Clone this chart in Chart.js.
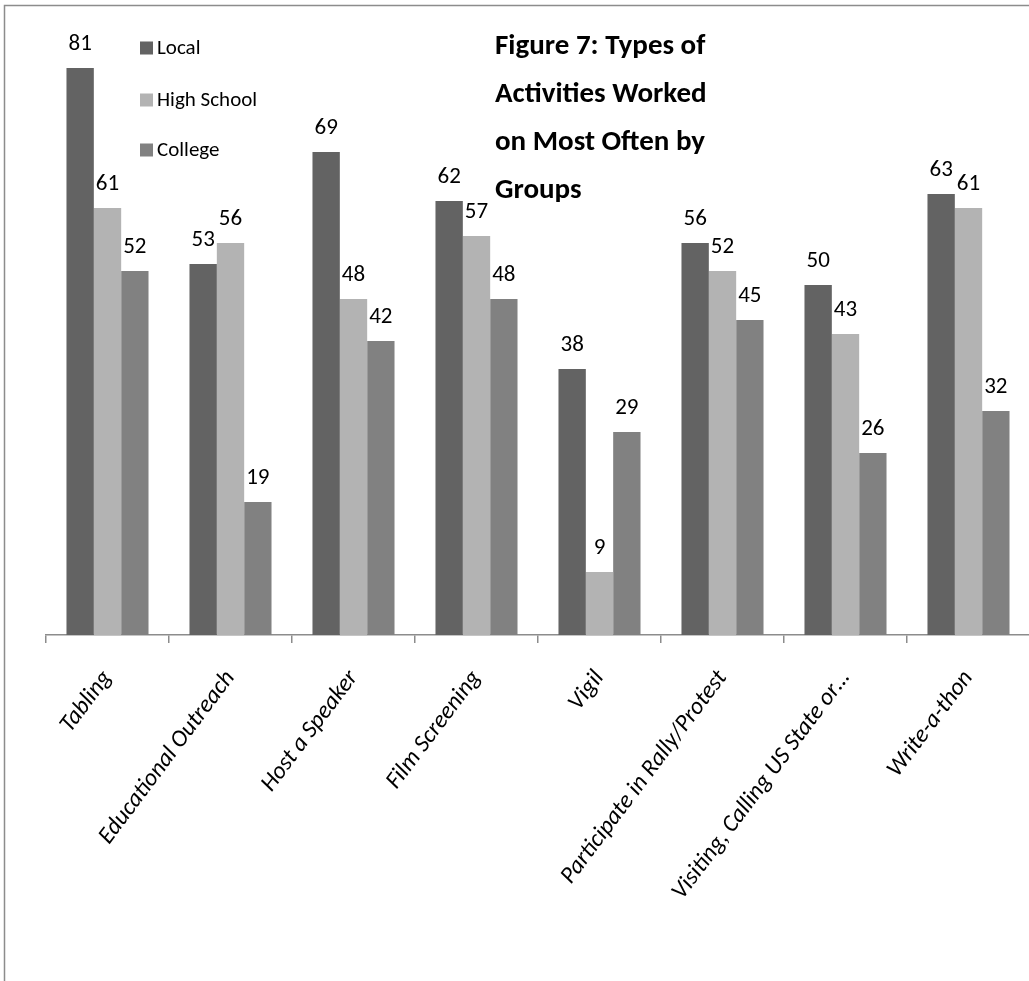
<!DOCTYPE html>
<html>
<head>
<meta charset="utf-8">
<title>Types of Activities Worked on Most Often by Groups</title>
<script src="https://cdn.jsdelivr.net/npm/chart.js@4"></script>
<style>
  html, body { margin: 0; padding: 0; background: #ffffff; overflow: hidden; }
  #wrap { position: absolute; left: 0; top: 0; width: 1040px; height: 981px; }
</style>
</head>
<body>
<div id="wrap"><canvas id="chart" width="1040" height="981"></canvas></div>
<script>
// Activity categories along the x axis
const categories = [
  'Tabling',
  'Educational Outreach',
  'Host a Speaker',
  'Film Screening',
  'Vigil',
  'Participate in Rally/Protest',
  'Visiting, Calling US State or…',
  'Write-a-thon'
];

// Group types
const seriesNames = ['Local', 'High School', 'College'];

// Counts per activity, one array per group type
const localValues      = [81, 53, 69, 62, 38, 56, 50, 63];
const highSchoolValues = [61, 56, 48, 57,  9, 52, 43, 61];
const collegeValues    = [52, 19, 42, 48, 29, 45, 26, 32];

// Chart heading, split over four lines
const titleLines = ['Figure 7: Types of', 'Activities Worked', 'on Most Often by', 'Groups'];

// Value axis range (the axis itself is hidden)
const yMin = 0;
const yMax = 90;

const FONT = 'Carlito, Calibri, Lato, sans-serif';
const seriesColors = ['#636363', '#b3b3b3', '#818181'];
const lineGray = '#8c8c8c';

// Outer frame along the top and left edges
const framePlugin = {
  id: 'frame',
  beforeDraw(chart) {
    const ctx = chart.ctx;
    ctx.save();
    ctx.strokeStyle = lineGray;
    ctx.lineWidth = 1.5;
    ctx.beginPath();
    ctx.moveTo(4.5, chart.height);
    ctx.lineTo(4.5, 5.5);
    ctx.lineTo(chart.width, 5.5);
    ctx.stroke();
    ctx.restore();
  }
};

// Value written above every bar
const valueLabelPlugin = {
  id: 'valueLabels',
  afterDatasetsDraw(chart) {
    const ctx = chart.ctx;
    ctx.save();
    ctx.fillStyle = '#000000';
    ctx.font = '23px ' + FONT;
    ctx.textAlign = 'center';
    ctx.textBaseline = 'alphabetic';
    chart.data.datasets.forEach((ds, di) => {
      const meta = chart.getDatasetMeta(di);
      meta.data.forEach((bar, i) => {
        ctx.fillText(String(ds.data[i]), bar.x, bar.y - 18);
      });
    });
    ctx.restore();
  }
};

// Vertical legend placed inside the plot area
const legendPlugin = {
  id: 'innerLegend',
  afterDraw(chart) {
    const ctx = chart.ctx;
    const x0 = 140, box = 13, rowY = [48, 100, 150];
    ctx.save();
    ctx.font = '21px ' + FONT;
    ctx.textBaseline = 'middle';
    ctx.textAlign = 'left';
    chart.data.datasets.forEach((ds, i) => {
      const y = rowY[i];
      ctx.fillStyle = ds.backgroundColor;
      ctx.fillRect(x0, y - box / 2, box, box);
      ctx.fillStyle = '#000000';
      ctx.fillText(ds.label, x0 + box + 4, y + 1);
    });
    ctx.restore();
  }
};

// Bold heading, left aligned, upper right of the plot
const headingPlugin = {
  id: 'heading',
  afterDraw(chart) {
    const ctx = chart.ctx;
    const baselines = [54, 102, 150, 198];
    ctx.save();
    ctx.fillStyle = '#000000';
    ctx.font = 'bold 29px ' + FONT;
    ctx.textAlign = 'left';
    ctx.textBaseline = 'alphabetic';
    titleLines.forEach((line, i) => ctx.fillText(line, 495, baselines[i]));
    ctx.restore();
  }
};

const seriesValues = [localValues, highSchoolValues, collegeValues];

new Chart(document.getElementById('chart'), {
  type: 'bar',
  data: {
    labels: categories,
    datasets: seriesNames.map((name, i) => ({
      label: name,
      data: seriesValues[i],
      backgroundColor: seriesColors[i],
      borderWidth: 0,
      categoryPercentage: 0.667,
      barPercentage: 1.0
    }))
  },
  options: {
    responsive: false,
    animation: false,
    layout: { padding: { left: 46, top: 5, right: 10, bottom: 0 } },
    plugins: {
      legend: { display: false },
      tooltip: { enabled: false },
      title: { display: false }
    },
    scales: {
      x: {
        grid: {
          display: true,
          offset: true,
          drawOnChartArea: false,
          drawTicks: true,
          tickLength: 8,
          color: lineGray,
          lineWidth: 1.5
        },
        border: { display: true, color: lineGray, width: 1.5 },
        ticks: {
          autoSkip: false,
          minRotation: 53,
          maxRotation: 53,
          color: '#000000',
          padding: 22,
          font: { family: FONT, size: 24, style: 'italic' }
        },
        afterFit(scale) { scale.height = 981 - 635; }
      },
      y: {
        display: false,
        min: yMin,
        max: yMax
      }
    }
  },
  plugins: [framePlugin, valueLabelPlugin, legendPlugin, headingPlugin]
});
</script>
</body>
</html>
